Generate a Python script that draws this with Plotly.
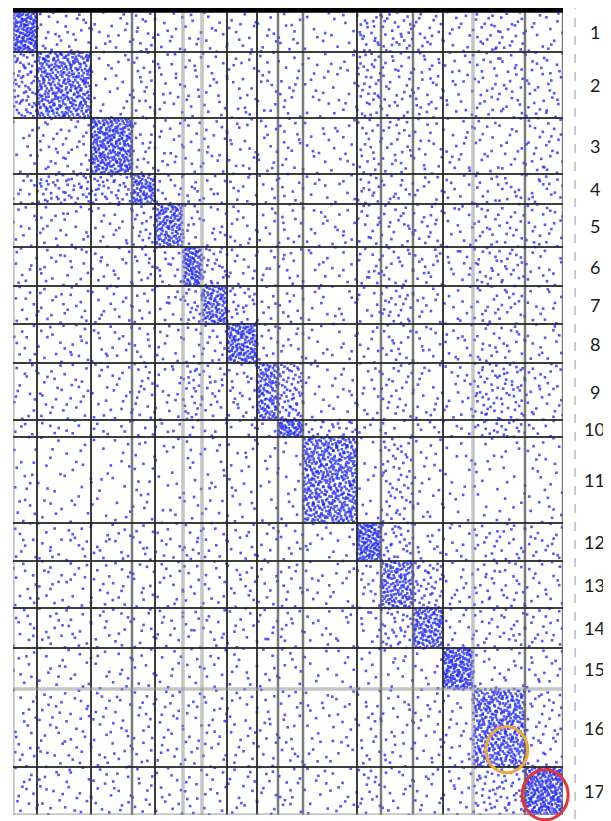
import numpy as np
import plotly.graph_objects as go

# ---------------- data ----------------
block_labels = [str(i) for i in range(1, 18)]
# community sizes along rows (y) and columns (x)
row_sizes = [40, 66, 56, 30, 43, 39, 38, 39, 57, 17, 86, 38, 47, 40, 41, 78, 48]
col_sizes = [24, 54, 41, 23, 28, 19, 25, 30, 21, 25, 54, 24, 32, 30, 30, 52, 38]

# estimated link density per block (dots per 1000 unit^2)
density = [
    [150, 14, 10, 14, 10, 10, 10, 10, 10, 10, 7, 22, 22, 14, 10, 18, 10],
    [40, 100, 8, 14, 10, 10, 10, 10, 10, 10, 8, 22, 14, 14, 10, 14, 14],
    [7, 14, 120, 14, 10, 10, 10, 10, 10, 10, 8, 14, 14, 10, 10, 10, 14],
    [14, 30, 30, 110, 14, 14, 10, 10, 10, 10, 8, 18, 14, 10, 10, 14, 14],
    [10, 10, 10, 20, 110, 14, 10, 10, 10, 10, 9, 14, 14, 14, 10, 14, 14],
    [10, 10, 10, 14, 14, 140, 24, 10, 10, 10, 8, 14, 14, 14, 10, 18, 10],
    [10, 10, 10, 10, 10, 24, 110, 20, 10, 10, 8, 10, 20, 10, 10, 14, 10],
    [10, 10, 10, 10, 10, 10, 14, 120, 14, 10, 8, 10, 14, 10, 10, 14, 10],
    [10, 10, 10, 14, 10, 24, 14, 14, 100, 45, 8, 10, 14, 10, 10, 24, 14],
    [10, 10, 10, 10, 10, 10, 10, 10, 10, 140, 24, 10, 10, 10, 10, 24, 10],
    [8, 6, 6, 8, 6, 8, 8, 8, 6, 6, 100, 6, 20, 8, 6, 6, 8],
    [10, 10, 10, 10, 10, 14, 10, 10, 10, 10, 8, 140, 24, 10, 10, 14, 14],
    [10, 10, 10, 10, 10, 10, 10, 10, 10, 10, 8, 14, 100, 30, 10, 14, 10],
    [10, 10, 10, 10, 10, 10, 10, 10, 10, 10, 8, 10, 24, 110, 10, 14, 14],
    [8, 8, 8, 8, 8, 8, 8, 8, 8, 8, 6, 8, 8, 8, 140, 10, 10],
    [10, 10, 10, 10, 10, 10, 10, 10, 10, 10, 8, 10, 10, 10, 10, 100, 14],
    [10, 10, 10, 10, 10, 10, 10, 10, 10, 10, 8, 14, 10, 10, 10, 24, 140],
]

# boundary line tones (0 = light, 1 = mid, 2 = dark)
col_line_tone = [0, 2, 2, 1, 2, 0, 0, 2, 2, 1, 1, 2, 1, 1, 2, 0, 1, 1]
row_line_tone = [2, 2, 2, 2, 2, 2, 2, 2, 2, 2, 2, 2, 2, 2, 2, 0, 2, 0]

# highlighted regions (block index, relative position inside the block)
highlights = [
    dict(row=15, col=15, fx=0.65, fy=0.78, rx=21, ry=23, color="#efa73a"),
    dict(row=16, col=16, fx=0.53, fy=0.58, rx=23, ry=25, color="#e23434"),
]

# ---------------- layout helpers ----------------
x_edges = np.concatenate([[0], np.cumsum(col_sizes)])
y_edges = np.concatenate([[0], np.cumsum(row_sizes)])
XT, YT = x_edges[-1], y_edges[-1]


def halton(k, base):
    f, r = 1.0, 0.0
    while k > 0:
        f /= base
        r += f * (k % base)
        k //= base
    return r


xs, ys = [], []
for i in range(17):
    for j in range(17):
        w, h = col_sizes[j], row_sizes[i]
        n = int(round(density[i][j] / 1000.0 * w * h))
        k0 = 997 * (i * 17 + j) + 11
        for k in range(n):
            idx = k0 + 409 * k
            xs.append(x_edges[j] + w * halton(idx, 2))
            ys.append(y_edges[i] + h * halton(idx, 3))

fig = go.Figure()
fig.add_trace(go.Scatter(
    x=xs, y=ys, mode="markers",
    marker=dict(symbol="square", size=2.6, color="rgba(30,40,255,0.78)", line=dict(width=0)),
    hoverinfo="skip", showlegend=False,
))

tone_style = {0: ("rgba(150,150,150,0.55)", 3.5), 1: ("rgba(90,90,90,0.8)", 2.5), 2: ("rgba(40,40,40,0.9)", 2)}

shapes = []
for xe, t in zip(x_edges, col_line_tone):
    c, wdt = tone_style[t]
    shapes.append(dict(type="line", xref="x", yref="y", x0=xe, x1=xe, y0=0, y1=YT,
                       line=dict(color=c, width=wdt), layer="above"))
for ye, t in zip(y_edges, row_line_tone):
    c, wdt = tone_style[t]
    shapes.append(dict(type="line", xref="x", yref="y", x0=0, x1=XT, y0=ye, y1=ye,
                       line=dict(color=c, width=wdt), layer="above"))

# thick top bar
shapes.append(dict(type="rect", xref="paper", yref="paper", x0=0, x1=1, y0=1.0, y1=1.0075,
                   fillcolor="black", line=dict(width=0), layer="above"))
# dashed guide on the right
shapes.append(dict(type="line", xref="paper", yref="paper", x0=1.022, x1=1.022, y0=-0.005, y1=1.005,
                   line=dict(color="#bbbbbb", width=1.5, dash="dash"), layer="above"))


def to_paper_x(v):
    return v / XT


def to_paper_y(v):
    return 1 - v / YT


for hl in highlights:
    cx = x_edges[hl["col"]] + hl["fx"] * col_sizes[hl["col"]]
    cy = y_edges[hl["row"]] + hl["fy"] * row_sizes[hl["row"]]
    shapes.append(dict(type="circle", xref="paper", yref="paper",
                       x0=to_paper_x(cx - hl["rx"]), x1=to_paper_x(cx + hl["rx"]),
                       y0=to_paper_y(cy + hl["ry"]), y1=to_paper_y(cy - hl["ry"]),
                       line=dict(color=hl["color"], width=3), layer="above"))

annotations = []
for i, lab in enumerate(block_labels):
    yc = (y_edges[i] + y_edges[i + 1]) / 2
    annotations.append(dict(x=1.058, xref="paper", y=yc, yref="y", text=lab, showarrow=False,
                            font=dict(family="Lato, Noto Sans, sans-serif", size=18, color="#1b1b1b"),
                            xanchor="center", yanchor="middle"))

# page body has an 8px margin, so the figure is sized/offset to compensate
fig.update_layout(
    width=603, height=813,
    margin=dict(l=5, r=48, t=4, b=6),
    paper_bgcolor="white", plot_bgcolor="white",
    shapes=shapes, annotations=annotations,
    xaxis=dict(range=[0, XT], visible=False, showgrid=False, zeroline=False, fixedrange=True),
    yaxis=dict(range=[YT, 0], visible=False, showgrid=False, zeroline=False, fixedrange=True),
    showlegend=False,
)

fig.write_html("out.html")
